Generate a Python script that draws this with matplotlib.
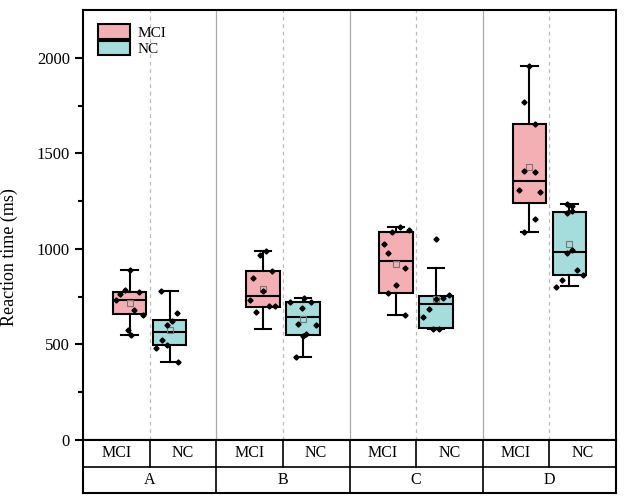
import matplotlib
matplotlib.use("Agg")
import matplotlib.pyplot as plt
from matplotlib.patches import Patch

plt.rcParams['font.family'] = ['Liberation Serif', 'DejaVu Serif']

groups = ['A', 'B', 'C', 'D']
subgroups = ['MCI', 'NC']
colors = ['#F4AFB4', '#A5DCDC']

# box stats per group: [MCI, NC]
whislo = [[549, 408], [579, 434], [652, 580], [1086, 806]]
q1 = [[658, 497], [698, 551], [771, 584], [1240, 862]]
med = [[733, 567], [756, 645], [937, 710], [1353, 984]]
q3 = [[775, 626], [885, 722], [1089, 754], [1654, 1191]]
whishi = [[892, 782], [988, 745], [1112, 899], [1956, 1234]]
means = [[719, 577], [789, 631], [920, 736], [1430, 1023]]

# raw points per group: [MCI, NC]
points = [
    [[892, 785, 766, 775, 733, 679, 654, 574, 549],
     [780, 664, 622, 603, 525, 497, 479, 408]],
    [[988, 967, 885, 846, 778, 735, 703, 700, 668],
     [745, 724, 724, 689, 605, 602, 554, 544, 434]],
    [[1112, 1089, 1100, 1028, 979, 900, 811, 771, 652],
     [1051, 757, 745, 740, 684, 645, 579, 579]],
    [[1956, 1768, 1654, 1407, 1404, 1310, 1299, 1156, 1086],
     [1234, 1226, 1187, 1197, 976, 995, 890, 862, 837, 803]],
]
jitter = [
    [[0, -0.033, -0.07, 0.07, -0.105, 0.033, 0.1, -0.013, 0.013],
     [-0.063, 0.058, 0.02, -0.02, -0.06, -0.02, -0.1, 0.063]],
    [[0.025, -0.025, 0.072, -0.074, 0, -0.099, 0.044, 0.094, -0.049],
     [0.012, -0.099, 0.062, -0.005, -0.037, 0.099, 0.025, 0, -0.049]],
    [[0.03, -0.033, 0.098, -0.09, -0.058, 0.063, 0, -0.058, 0.063],
     [0, 0.098, 0.05, 0, -0.05, -0.095, -0.025, 0.018]],
    [[0, -0.043, 0.043, -0.043, 0.04, -0.08, 0.08, 0.04, -0.043],
     [-0.015, 0.018, -0.015, 0.018, -0.015, 0.018, 0.06, 0.1, -0.058, -0.1]],
]

W, H = 624, 499
fig = plt.figure(figsize=(W / 100, H / 100), dpi=100)
left, right, top, bottom = 83 / W, 616 / W, 10 / H, 440 / H
ax = fig.add_axes([left, 1 - bottom, right - left, bottom - top])
axt = fig.add_axes([left, 1 - 493 / H, right - left, 53 / H])

offsets = [-0.15, 0.15]
lw = 1.5
for gi in range(len(groups)):
    for si in range(2):
        pos = gi + offsets[si]
        st = dict(whislo=whislo[gi][si], q1=q1[gi][si], med=med[gi][si],
                  q3=q3[gi][si], whishi=whishi[gi][si], mean=means[gi][si],
                  fliers=[])
        ax.bxp([st], positions=[pos], widths=0.25, patch_artist=True,
               showmeans=True, showcaps=True,
               boxprops=dict(facecolor=colors[si], edgecolor='black', linewidth=lw),
               medianprops=dict(color='black', linewidth=lw),
               whiskerprops=dict(color='black', linewidth=lw),
               capprops=dict(color='black', linewidth=lw),
               capwidths=0.125,
               meanprops=dict(marker='s', markersize=5, markerfacecolor='none',
                              markeredgecolor='#777777', markeredgewidth=0.8),
               zorder=3)
        xs = [pos + j for j in jitter[gi][si]]
        ax.plot(xs, points[gi][si], 'D', color='black', markersize=2.6,
                linestyle='none', zorder=5)

for gi in range(len(groups)):
    ax.axvline(gi, color='#bbbbbb', linestyle=(0, (3, 3)), linewidth=0.9, zorder=0)
    if gi > 0:
        ax.axvline(gi - 0.5, color='#aaaaaa', linewidth=0.9, zorder=0)

ax.set_xlim(-0.5, len(groups) - 0.5)
ax.set_ylim(0, 2250)
ax.set_yticks([0, 500, 1000, 1500, 2000])
ax.set_yticks([250, 750, 1250, 1750], minor=True)
ax.set_xticks([])
ax.tick_params(axis='y', which='major', direction='out', length=6, width=1.5,
               labelsize=12)
ax.tick_params(axis='y', which='minor', direction='out', length=3.5, width=1.5)
for s in ax.spines.values():
    s.set_linewidth(1.5)
ax.set_ylabel('Reaction time (ms)', fontsize=13)
ax.yaxis.set_label_coords(-0.122, 0.425)

handles = [Patch(facecolor=colors[i], edgecolor='black', linewidth=1.5,
                 label=subgroups[i]) for i in range(2)]
ax.legend(handles=handles, loc='upper left', frameon=False, fontsize=11,
          handlelength=2.1, handleheight=1.05, labelspacing=0.1,
          handletextpad=0.5, borderaxespad=0.4, bbox_to_anchor=(0.005, 0.995))

# category table below the axis
axt.set_xlim(-0.5, len(groups) - 0.5)
axt.set_ylim(0, 2)
axt.set_xticks([])
axt.set_yticks([])
for s in axt.spines.values():
    s.set_linewidth(1.5)
axt.axhline(1, color='black', linewidth=1.2)
for gi, g in enumerate(groups):
    axt.plot([gi, gi], [1, 2], color='black', linewidth=1.2)
    if gi > 0:
        axt.plot([gi - 0.5, gi - 0.5], [0, 2], color='black', linewidth=1.2)
    for si in range(2):
        axt.text(gi - 0.25 + 0.5 * si, 1.5, subgroups[si], ha='center',
                 va='center', fontsize=11.5)
    axt.text(gi, 0.5, g, ha='center', va='center', fontsize=11.5)

fig.savefig('out.png', dpi=100)
